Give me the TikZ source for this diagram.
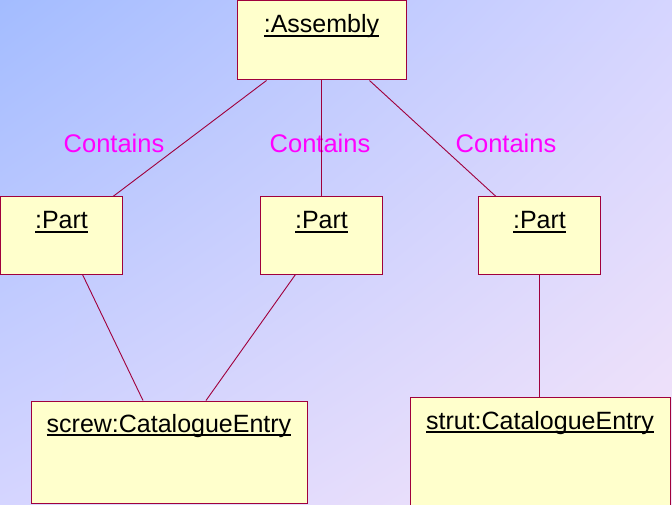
\documentclass[tikz,border=0pt]{standalone}
\usepackage{fontspec}
\setmainfont{Liberation Sans}
\usetikzlibrary{positioning,shadings}
\definecolor{umlline}{HTML}{A0003C}
\definecolor{umlfill}{HTML}{FFFFCC}
\definecolor{assoctext}{HTML}{FF00FF}
\definecolor{bgtopleft}{HTML}{A3BCFF}
\definecolor{bgmid}{HTML}{D5D5FF}
\definecolor{bgbotright}{HTML}{F5E4F8}
\newsavebox\namebox
\newcommand{\objname}[1]{\sbox\namebox{#1}\rlap{\rule[-4.3pt]{\wd\namebox}{2pt}}\usebox\namebox}
\tikzset{%
objbox/.style={draw=umlline,fill=umlfill,rectangle,line width=1pt,inner sep=0pt,font=\fontsize{25pt}{30pt}\selectfont,anchor=base},
partbox/.style={objbox,minimum width=122pt,text height=32pt,text depth=45pt},
assoc/.style={font=\fontsize{25.5pt}{30pt}\selectfont,text=assoctext,inner sep=0pt,anchor=base},
link/.style={draw=umlline,line width=0.9pt}
}

\begin{document}
\begin{tikzpicture}[x=1pt,y=-1pt]

    \shade[upper left=bgtopleft,upper right=bgmid,lower left=bgmid,lower right=bgbotright]
        (0,0) rectangle (672,505);
    \clip (0,0) rectangle (672,505);

    \node[objbox,minimum width=169pt,text height=32.5pt,text depth=47pt] (assembly) at (321.5,33) {\objname{:Assembly}};

    \node[partbox]    (part1) at (61.5,229) {\objname{:Part}};
    \node[partbox]    (part2) [right=137pt of part1] {\objname{:Part}};
    \node[partbox]    (part3) [right=95pt of part2] {\objname{:Part}};

    \node[objbox,minimum width=276pt,text height=31pt,text depth=71pt]  (screw) at (169,432) {\objname{screw:CatalogueEntry}};
    \node[objbox,minimum width=260pt,text height=32pt,text depth=100pt] (strut) at (540,429) {\objname{strut:CatalogueEntry}};

    \node[assoc] (contains1) at (114,153) {Contains};
    \node[assoc] (contains2) at (320,153) {Contains};
    \node[assoc] (contains3) at (506,153) {Contains};

    \path[link] ([xshift=30pt]assembly.south west) edge ([xshift=-10pt]part1.north east)
                (assembly.south) edge (part2.north)
                ([xshift=-37pt]assembly.south east) edge ([xshift=18pt]part3.north west);
    \path[link] ([xshift=21pt]part1.south) edge ([xshift=-26pt]screw.north)
                ([xshift=-26pt]part2.south) edge ([xshift=37pt]screw.north)
                (part3.south) edge (part3.south |- strut.north);

\end{tikzpicture}
\end{document}
